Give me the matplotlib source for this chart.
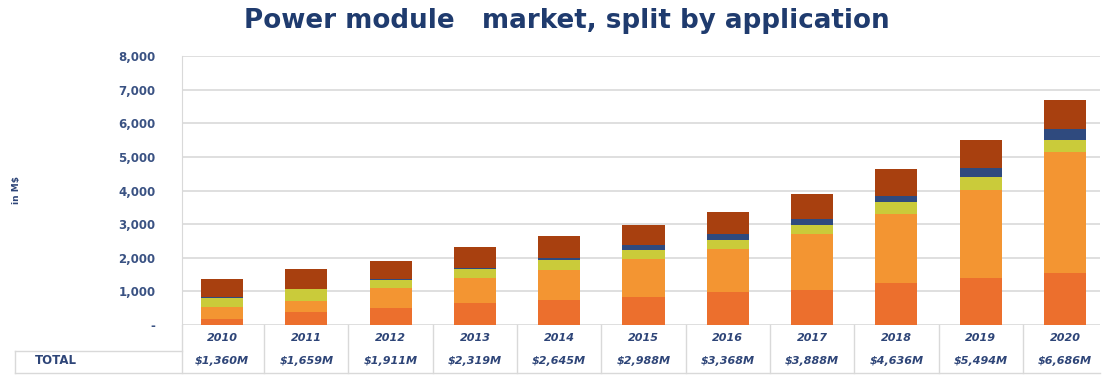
import numpy as np
import matplotlib
matplotlib.use("Agg")
import matplotlib.pyplot as plt
from matplotlib.transforms import blended_transform_factory

years = ["2010", "2011", "2012", "2013", "2014", "2015",
         "2016", "2017", "2018", "2019", "2020"]
totals = ["$1,360M", "$1,659M", "$1,911M", "$2,319M", "$2,645M", "$2,988M",
          "$3,368M", "$3,888M", "$4,636M", "$5,494M", "$6,686M"]

# stacked segments, bottom to top (in M$)
seg_dark_orange = [170, 396, 497, 646, 744, 842, 991, 1042, 1241, 1390, 1540]
seg_orange = [360, 330, 597, 744, 889, 1125, 1266, 1655, 2055, 2625, 3610]
seg_yellow_green = [275, 339, 247, 270, 298, 277, 277, 277, 366, 399, 366]
seg_navy = [20, 20, 25, 35, 71, 149, 170, 170, 179, 268, 307]
seg_brown = [535, 574, 545, 624, 643, 595, 664, 744, 795, 812, 863]

segments = [seg_dark_orange, seg_orange, seg_yellow_green, seg_navy, seg_brown]
colors = ["#EC6F2D", "#F39532", "#CACB3A", "#2F4A7E", "#A8400F"]

yticks = [0, 1000, 2000, 3000, 4000, 5000, 6000, 7000, 8000]
ytick_labels = ["-", "1,000", "2,000", "3,000", "4,000", "5,000",
                "6,000", "7,000", "8,000"]

text_blue = "#2E4578"
grid_grey = "#D9D9D9"

fig = plt.figure(figsize=(11.03, 3.80), dpi=100)
ax = fig.add_axes([182 / 1103, 1 - 325 / 380, 918 / 1103, 269 / 380])

x = np.arange(len(years))
bottom = np.zeros(len(years))
for vals, c in zip(segments, colors):
    ax.bar(x, vals, width=0.5, bottom=bottom, color=c, zorder=3)
    bottom += np.array(vals)

ax.set_xlim(-0.475, len(years) - 1 + 0.415)
ax.set_ylim(0, 8000)
ax.set_yticks(yticks)
ax.set_yticklabels(ytick_labels, fontsize=8.5, fontweight="bold", color="#3A5283")
ax.tick_params(axis="y", length=0, pad=19)
ax.set_xticks([])
ax.grid(axis="y", color=grid_grey, linewidth=1.2, zorder=0)
for s in ["top", "right", "bottom"]:
    ax.spines[s].set_visible(False)
ax.spines["left"].set_color(grid_grey)

fig.text(16 / 1103, 1 - 190 / 380, "in M$", rotation=90, fontsize=6.5,
         fontweight="bold", color=text_blue, ha="center", va="center")

fig.text(567 / 1103, 1 - 21 / 380, "Power module   market, split by application",
         fontsize=18.8, fontweight="bold", color="#1F3B6E",
         ha="center", va="center")

# table under the chart
tr = blended_transform_factory(ax.transData, ax.transAxes)
tra = ax.transAxes
y_row1 = -13 / 269
y_row2 = -36 / 269
y_mid = -26 / 269
y_bot = -48 / 269
for i in range(len(years)):
    ax.text(i, y_row1, years[i], transform=tr, ha="center", va="center",
            fontsize=8, fontweight="bold", style="italic", color=text_blue)
    ax.text(i, y_row2, totals[i], transform=tr, ha="center", va="center",
            fontsize=8, fontweight="bold", style="italic", color=text_blue)
for i in range(len(years) - 1):
    ax.plot([i + 0.5, i + 0.5], [0, y_bot], transform=tr, color=grid_grey,
            linewidth=1, clip_on=False)
ax.plot([0, 0], [0, y_bot], transform=tra, color=grid_grey, linewidth=1, clip_on=False)
ax.plot([-167 / 918, 1], [y_bot, y_bot], transform=tra, color=grid_grey,
        linewidth=1, clip_on=False)
ax.plot([-167 / 918, 0], [y_mid, y_mid], transform=tra, color=grid_grey,
        linewidth=1, clip_on=False)
ax.plot([-167 / 918, -167 / 918], [y_mid, y_bot], transform=tra, color=grid_grey,
        linewidth=1, clip_on=False)
ax.text(-147 / 918, y_row2, "TOTAL", transform=tra, ha="left", va="center",
        fontsize=8.5, fontweight="bold", color=text_blue)

fig.savefig("out.png", dpi=100)
